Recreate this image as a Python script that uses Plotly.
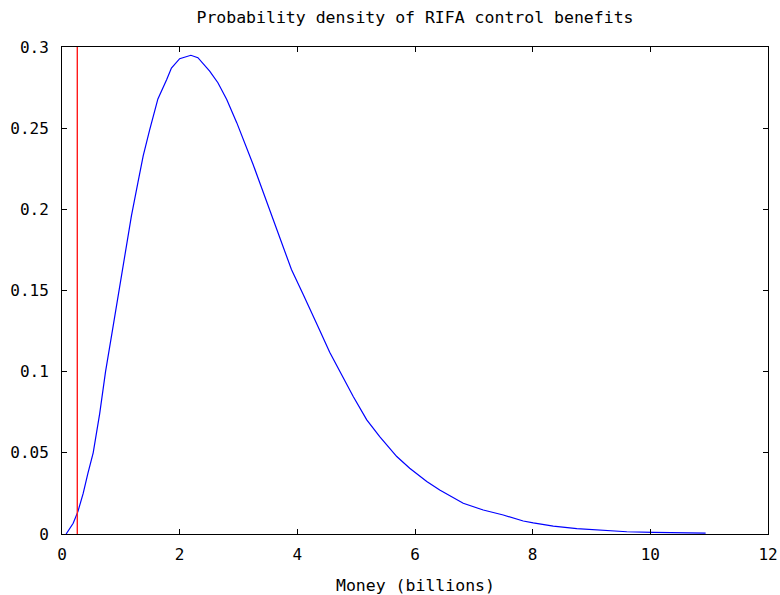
import plotly.graph_objects as go

# Density curve
money = [0.07, 0.19, 0.27, 0.36, 0.44, 0.53, 0.64, 0.74, 0.86, 0.97, 1.08, 1.18, 1.29, 1.38,
         1.49, 1.63, 1.78, 1.86, 2.00, 2.19, 2.31, 2.51, 2.65, 2.80, 2.97, 3.11, 3.25, 3.36,
         3.53, 3.70, 3.90, 4.10, 4.24, 4.38, 4.55, 4.78, 4.95, 5.18, 5.40, 5.69, 5.91, 6.20,
         6.42, 6.82, 7.16, 7.50, 7.84, 8.01, 8.35, 8.75, 9.14, 9.60, 10.05, 10.62, 10.94]
density = [0.0, 0.0066, 0.0138, 0.025, 0.0374, 0.05, 0.074, 0.1, 0.126, 0.15, 0.175, 0.196,
           0.2165, 0.233, 0.249, 0.268, 0.280, 0.287, 0.2928, 0.2949, 0.2934, 0.2852, 0.278,
           0.2677, 0.2534, 0.241, 0.2275, 0.2165, 0.1999, 0.1834, 0.1629, 0.1475, 0.137, 0.1255,
           0.112, 0.096, 0.0847, 0.0703, 0.060, 0.0477, 0.0405, 0.0323, 0.0271, 0.0189, 0.0148,
           0.0117, 0.0080, 0.0068, 0.0049, 0.0033, 0.0023, 0.0014, 0.0010, 0.0008, 0.0006]

# Vertical marker line
marker_x = [0.26, 0.26]
marker_y = [0.0, 0.3]

x_ticks = [0, 2, 4, 6, 8, 10, 12]
x_labels = ["0", "2", "4", "6", "8", "10", "12"]
y_ticks = [0, 0.05, 0.1, 0.15, 0.2, 0.25, 0.3]
y_labels = ["0", "0.05", "0.1", "0.15", "0.2", "0.25", "0.3"]

FONT = "DejaVu Sans Mono"
W, H = 780, 595

fig = go.Figure()
fig.add_trace(go.Scatter(x=money, y=density, mode="lines",
                         line=dict(color="#0000ff", width=1.2), showlegend=False))
fig.add_trace(go.Scatter(x=marker_x, y=marker_y, mode="lines",
                         line=dict(color="#ff1a1a", width=1.4), showlegend=False))

axis_common = dict(showgrid=False, zeroline=False, showline=True, linecolor="#000000",
                   linewidth=1, mirror="ticks", ticks="inside", ticklen=5, tickwidth=1,
                   tickcolor="#000000", tickfont=dict(family=FONT, size=16, color="#000000"))

fig.update_layout(
    width=W, height=H,
    margin=dict(l=62, r=12, t=47, b=61, autoexpand=False),
    paper_bgcolor="white", plot_bgcolor="white",
    title=dict(text="Probability density of RIFA control benefits",
               x=0.5, xref="paper", xanchor="center",
               y=1 - 17 / H, yref="container", yanchor="middle",
               font=dict(family=FONT, size=16.5, color="#000000")),
    xaxis=dict(range=[0, 12], tickvals=x_ticks, ticktext=x_labels,
               ticklabelstandoff=6, **axis_common),
    yaxis=dict(range=[0, 0.3], tickvals=y_ticks, ticktext=y_labels,
               ticklabelstandoff=9, **axis_common),
    annotations=[dict(text="Money (billions)", x=0.5, xref="paper", y=-51 / 487, yref="paper",
                      xanchor="center", yanchor="middle", showarrow=False,
                      font=dict(family=FONT, size=16.5, color="#000000"))],
)

fig.write_html(
    "out.html",
    config={"displayModeBar": False},
    post_script="document.body.style.margin='0';document.body.style.overflow='hidden';",
)
